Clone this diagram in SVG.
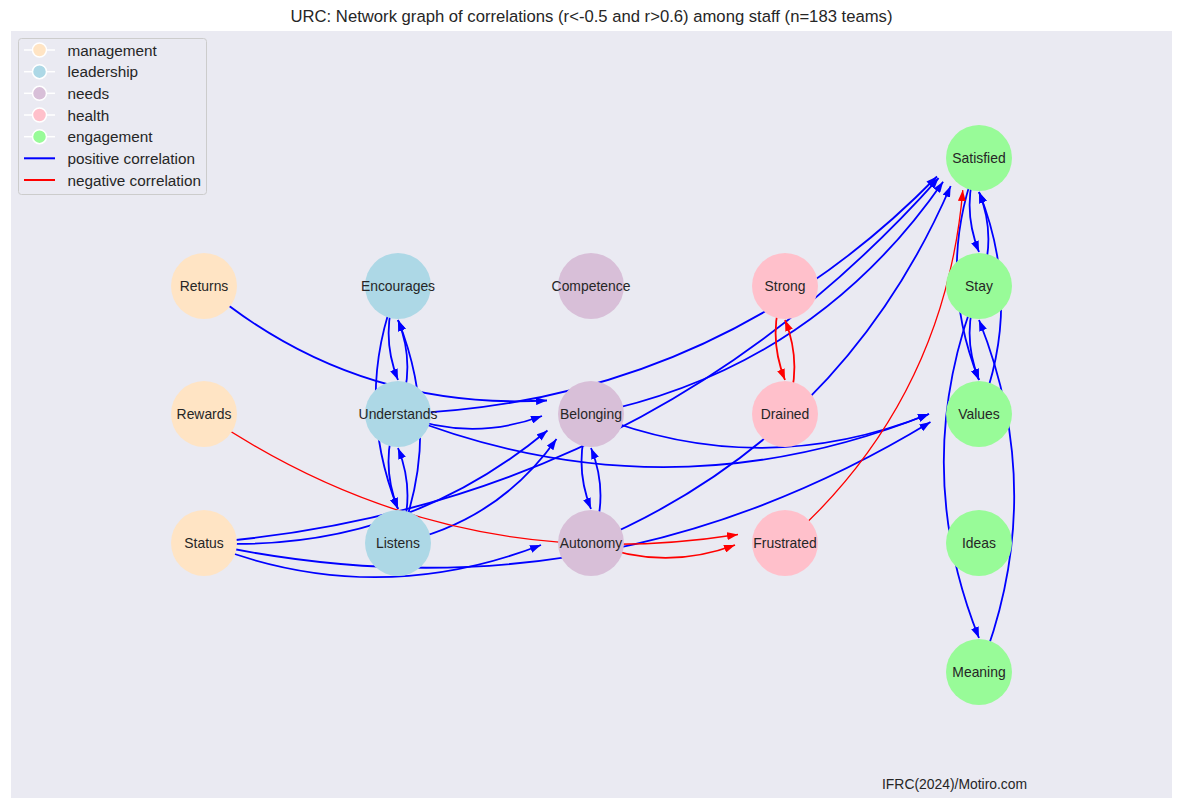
<svg xmlns="http://www.w3.org/2000/svg" width="1182" height="810" viewBox="0 0 1182 810">
  <style>
    text { font-family: "Liberation Sans", Arial, sans-serif; fill: #262626; }
    .lbl { font-size: 13.9px; text-anchor: middle; }
    .leg { font-size: 15.3px; }
    .e { fill: none; stroke-width: 1.8; }
    .pos { stroke: #0000ff; marker-end: url(#ah-b); }
    .neg { stroke: #ff0000; marker-end: url(#ah-r); }
    .thin { stroke-width: 1.3; }
    .mgmt { fill: #ffe4c4; }
    .lead { fill: #add8e6; }
    .need { fill: #d8bfd8; }
    .hlth { fill: #ffc0cb; }
    .engg { fill: #98fb98; }
  </style>
  <defs>
    <marker id="ah-b" markerUnits="userSpaceOnUse" markerWidth="11" markerHeight="8" viewBox="0 0 11 8" refX="11" refY="4" orient="auto">
      <path d="M0,0 L11,4 L0,8 z" fill="#0000ff"/>
    </marker>
    <marker id="ah-r" markerUnits="userSpaceOnUse" markerWidth="11" markerHeight="8" viewBox="0 0 11 8" refX="11" refY="4" orient="auto">
      <path d="M0,0 L11,4 L0,8 z" fill="#ff0000"/>
    </marker>
  </defs>

  <rect width="1182" height="810" fill="#ffffff"/>
  <rect x="11" y="31" width="1161" height="767" fill="#eaeaf2"/>

  <text x="591.5" y="22" font-size="16.67px" text-anchor="middle">URC: Network graph of correlations (r&lt;-0.5 and r&gt;0.6) among staff (n=183 teams)</text>

  <g id="edges">
    <!-- positive correlations -->
    <path class="e pos" d="M204,286 Q352.4,410.95 547,400.5"/>
    <path class="e pos" d="M204,543 Q397.85,554.4 547.5,430.5"/>
    <path class="e pos" d="M204,543 Q644.3,507.5 938.6,178.1"/>
    <path class="e pos" d="M204,543 Q372.5,610.4 541,545"/>
    <path class="e pos" d="M204,543 Q591.4,627.85 930.5,422.1"/>
    <path class="e pos" d="M398,286 Q379.2,333 398,380"/>
    <path class="e pos" d="M398,414 Q416.8,367 398,320"/>
    <path class="e pos" d="M398,286 Q353.4,397.5 398,509"/>
    <path class="e pos" d="M398,543 Q442.6,431.5 398,320"/>
    <path class="e pos" d="M398,414 Q379,461.5 398,509"/>
    <path class="e pos" d="M398,543 Q417,495.5 398,448"/>
    <path class="e pos" d="M398,414 Q469.5,442.6 542,416"/>
    <path class="e pos" d="M398,414 Q715,403.05 937,176.5"/>
    <path class="e pos" d="M398,414 Q663.5,520.2 929,414"/>
    <path class="e pos" d="M398,543 Q497.7,521.9 556.5,439"/>
    <path class="e pos" d="M591,414 Q572,461.5 591,509"/>
    <path class="e pos" d="M591,543 Q610,495.5 591,448"/>
    <path class="e pos" d="M591,414 Q813.5,368.3 943.1,181.7"/>
    <path class="e pos" d="M591,414 Q760,481.6 929,414"/>
    <path class="e pos" d="M591,543 Q842.25,436.44 950.7,186"/>
    <path class="e pos" d="M979,158 Q960.2,205 979,252"/>
    <path class="e pos" d="M979,286 Q997.8,239 979,192"/>
    <path class="e pos" d="M979,158 Q934.6,269 979,380"/>
    <path class="e pos" d="M979,414 Q1023.4,303 979,192"/>
    <path class="e pos" d="M979,286 Q960.2,333 979,380"/>
    <path class="e pos" d="M979,286 Q908.6,462 979,638"/>
    <path class="e pos" d="M979,672 Q1049.4,496 979,320"/>
    <!-- negative correlations -->
    <path class="e neg thin" d="M204,414 Q447.1,579.9 738,534.5"/>
    <path class="e neg" d="M591,543 Q663,571.8 735,545"/>
    <path class="e neg thin" d="M785,543 Q944.5,402.1 962.8,190.1"/>
    <path class="e neg" d="M785,286 Q766.2,333 785,380"/>
    <path class="e neg" d="M785,414 Q803.8,367 785,320"/>
  </g>

  <g id="n-returns"><circle class="mgmt" cx="204" cy="286" r="33"/><text class="lbl" x="204" y="291">Returns</text></g>
  <g id="n-rewards"><circle class="mgmt" cx="204" cy="414" r="33"/><text class="lbl" x="204" y="419">Rewards</text></g>
  <g id="n-status"><circle class="mgmt" cx="204" cy="543" r="33"/><text class="lbl" x="204" y="548">Status</text></g>

  <g id="n-encourages"><circle class="lead" cx="398" cy="286" r="33"/><text class="lbl" x="398" y="291">Encourages</text></g>
  <g id="n-understands"><circle class="lead" cx="398" cy="414" r="33"/><text class="lbl" x="398" y="419">Understands</text></g>
  <g id="n-listens"><circle class="lead" cx="398" cy="543" r="33"/><text class="lbl" x="398" y="548">Listens</text></g>

  <g id="n-competence"><circle class="need" cx="591" cy="286" r="33"/><text class="lbl" x="591" y="291">Competence</text></g>
  <g id="n-belonging"><circle class="need" cx="591" cy="414" r="33"/><text class="lbl" x="591" y="419">Belonging</text></g>
  <g id="n-autonomy"><circle class="need" cx="591" cy="543" r="33"/><text class="lbl" x="591" y="548">Autonomy</text></g>

  <g id="n-strong"><circle class="hlth" cx="785" cy="286" r="33"/><text class="lbl" x="785" y="291">Strong</text></g>
  <g id="n-drained"><circle class="hlth" cx="785" cy="414" r="33"/><text class="lbl" x="785" y="419">Drained</text></g>
  <g id="n-frustrated"><circle class="hlth" cx="785" cy="543" r="33"/><text class="lbl" x="785" y="548">Frustrated</text></g>

  <g id="n-satisfied"><circle class="engg" cx="979" cy="158" r="33"/><text class="lbl" x="979" y="163">Satisfied</text></g>
  <g id="n-stay"><circle class="engg" cx="979" cy="286" r="33"/><text class="lbl" x="979" y="291">Stay</text></g>
  <g id="n-values"><circle class="engg" cx="979" cy="414" r="33"/><text class="lbl" x="979" y="419">Values</text></g>
  <g id="n-ideas"><circle class="engg" cx="979" cy="543" r="33"/><text class="lbl" x="979" y="548">Ideas</text></g>
  <g id="n-meaning"><circle class="engg" cx="979" cy="672" r="33"/><text class="lbl" x="979" y="677">Meaning</text></g>

  <g id="legend">
    <rect x="18.5" y="38.5" width="188" height="156" rx="3" fill="#eaeaf2" stroke="#cccccc" stroke-width="1"/>
    <g stroke="#ffffff" stroke-width="1.5">
      <line x1="24" y1="50" x2="55" y2="50"/>
      <circle class="mgmt" cx="39.5" cy="50" r="7"/>
      <line x1="24" y1="71.7" x2="55" y2="71.7"/>
      <circle class="lead" cx="39.5" cy="71.7" r="7"/>
      <line x1="24" y1="93.3" x2="55" y2="93.3"/>
      <circle class="need" cx="39.5" cy="93.3" r="7"/>
      <line x1="24" y1="115" x2="55" y2="115"/>
      <circle class="hlth" cx="39.5" cy="115" r="7"/>
      <line x1="24" y1="136.7" x2="55" y2="136.7"/>
      <circle class="engg" cx="39.5" cy="136.7" r="7"/>
    </g>
    <line x1="24" y1="158.3" x2="55" y2="158.3" stroke="#0000ff" stroke-width="2"/>
    <line x1="24" y1="180" x2="55" y2="180" stroke="#ff0000" stroke-width="2"/>
    <text class="leg" x="67.5" y="55.5">management</text>
    <text class="leg" x="67.5" y="77.2">leadership</text>
    <text class="leg" x="67.5" y="98.8">needs</text>
    <text class="leg" x="67.5" y="120.5">health</text>
    <text class="leg" x="67.5" y="142.2">engagement</text>
    <text class="leg" x="67.5" y="163.8">positive correlation</text>
    <text class="leg" x="67.5" y="185.5">negative correlation</text>
  </g>

  <text x="882" y="788.5" font-size="13.9px">IFRC(2024)/Motiro.com</text>
</svg>
